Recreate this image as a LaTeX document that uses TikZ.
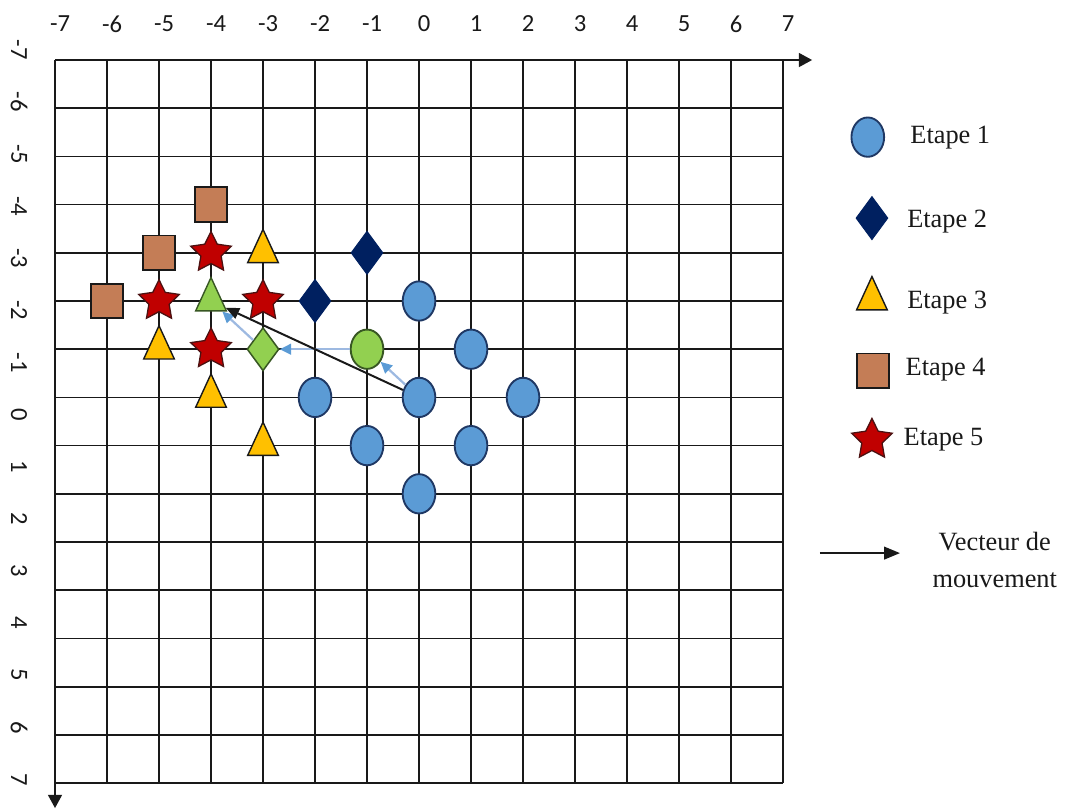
\documentclass[tikz,border=0pt]{standalone}
\usepackage{fontspec}
\setmainfont{Liberation Serif}
\newfontfamily\axisfont{Carlito}
\usepackage{tikz}
\usetikzlibrary{
  arrows.meta,
  shapes.geometric,
  positioning
}
\definecolor{xsky}{RGB}{91,155,213}
\definecolor{xedge}{RGB}{31,56,100}
\definecolor{xnavy}{RGB}{0,32,96}
\definecolor{xamber}{RGB}{255,192,0}
\definecolor{xclay}{RGB}{196,125,86}
\definecolor{xcrimson}{RGB}{192,0,0}
\definecolor{xlime}{RGB}{146,208,80}
\definecolor{xleaf}{RGB}{56,87,35}
\definecolor{xmist}{RGB}{157,185,225}
\definecolor{xink}{RGB}{25,25,25}

\begin{document}
\begin{tikzpicture}[
  x=1.56cm, y=-1.446cm,
  gridline/.style={xink, line width=1.5pt},
  axisline/.style={xink, line width=1.5pt, -{Triangle[length=0.4cm,width=0.42cm]}},
  axlabel/.style={font=\axisfont\fontsize{21}{25}\selectfont, text=xink, inner sep=1pt},
  stage1/.style={ellipse, draw=xedge, fill=xsky, line width=1.6pt,
                 minimum width=0.98cm, minimum height=1.18cm, inner sep=0pt},
  stage2/.style={diamond, draw=xnavy, fill=xnavy, line width=0.8pt,
                 minimum width=0.96cm, minimum height=1.3cm, inner sep=0pt},
  stage3/.style={isosceles triangle, isosceles triangle stretches, shape border rotate=90,
                 draw=xink, fill=xamber, line width=1.2pt,
                 minimum width=0.92cm, minimum height=1.0cm, inner sep=0pt},
  stage4/.style={rectangle, draw=xink, fill=xclay, line width=1.5pt,
                 minimum width=0.98cm, minimum height=1.04cm, inner sep=0pt},
  stage5/.style={star, star points=5, star point ratio=2.0, draw=xink!70!xcrimson,
                 fill=xcrimson, line width=1.1pt, minimum size=1.28cm, inner sep=0pt},
  moved/.style={fill=xlime, draw=xleaf},
  keytext/.style={font=\fontsize{22.5}{31}\selectfont, text=xink, anchor=west},
  movevec/.style={-{Triangle[length=0.4cm,width=0.34cm]}, line width=1.7pt, xink},
  trail/.style={-{Triangle[length=0.34cm,width=0.32cm,color=xsky]}, line width=1.9pt, xmist}
]
  \useasboundingbox (-8.058,-8.245) rectangle (12.538,8.560);

  % Grid and axes
  \foreach \c in {-7,...,7}
    \draw[gridline] (\c,-7) -- (\c,8);
  \foreach \r in {-7,...,8}
    \draw[gridline] (-7,\r) -- (7,\r);
  \coordinate (origin) at (-7,-7);
  \coordinate (xend)   at (7.56,-7);
  \coordinate (yend)   at (-7,8.52);
  \draw[axisline] (origin) -- (xend);
  \draw[axisline] (origin) -- (yend);

  \foreach \i in {-7,...,7}
    \node[axlabel] (cx\i) at ({\i+0.1},-7.75) {\i};
  \foreach \i in {-7,...,7}
    \node[axlabel, rotate=-90] (ry\i) at (-7.69,{-7.21+1.081*(\i+7)}) {\i};

  % Etape 1
  \node[stage1] (e1top) at (0,-2) {};
  \node[stage1] (e1ne)  at (1,-1) {};
  \node[stage1] (e1w)   at (-2,0) {};
  \node[stage1] (e1o)   at (0,0)  {};
  \node[stage1] (e1e)   at (2,0)  {};
  \node[stage1] (e1sw)  at (-1,1) {};
  \node[stage1] (e1se)  at (1,1)  {};
  \node[stage1] (e1bot) at (0,2)  {};
  % Etape 2
  \node[stage2] (e2a) at (-1,-3) {};
  \node[stage2] (e2b) at (-2,-2) {};
  % Etape 3
  \node[stage3] (e3a) at (-3,-3) {};
  \node[stage3] (e3b) at (-5,-1) {};
  \node[stage3] (e3c) at (-4,0)  {};
  \node[stage3] (e3d) at (-3,1)  {};
  % Etape 4
  \node[stage4] (e4a) at (-4,-4) {};
  \node[stage4] (e4b) at (-5,-3) {};
  \node[stage4] (e4c) at (-6,-2) {};
  % Etape 5
  \node[stage5] (e5a) at (-4,-3) {};
  \node[stage5] (e5b) at (-5,-2) {};
  \node[stage5] (e5c) at (-3,-2) {};
  \node[stage5] (e5d) at (-4,-1) {};

  % Tracked path
  \node[stage1, moved] (step1) at (-1,-1) {};
  \node[stage2, moved, line width=1.3pt] (step2) at (-3,-1) {};
  \node[stage3, moved] (step3) at (-4,-2) {};

  \draw[trail]   (e1o)   -- (step1);
  \draw[trail]   (step1) -- (step2);
  \draw[trail]   (step2) -- (step3);
  \draw[movevec] (e1o)   -- (step3);

  % Legend
  \node[stage1] (key1) at (8.63,-5.40) {};
  \node[stage2] (key2) at (8.71,-3.72) {};
  \node[stage3] (key3) at (8.71,-2.02) {};
  \node[stage4] (key4) at (8.73,-0.55) {};
  \node[stage5] (key5) at (8.71,0.88)  {};
  \node[keytext] (lab1) at (9.37,-5.40) {Etape 1};
  \node[keytext] (lab2) at (9.31,-3.65) {Etape 2};
  \node[keytext] (lab3) at (9.31,-1.96) {Etape 3};
  \node[keytext] (lab4) at (9.28,-0.57) {Etape 4};
  \node[keytext] (lab5) at (9.24,0.88)  {Etape 5};

  \coordinate (vstart) at (7.71,3.23);
  \coordinate (vend)   at (9.25,3.23);
  \draw[movevec, -{Triangle[length=0.48cm,width=0.38cm]}] (vstart) -- (vend);
  \node[keytext, align=center, right=0.85cm of vend, yshift=-0.21cm] (vlab)
    {Vecteur de\\mouvement};
\end{tikzpicture}
\end{document}
